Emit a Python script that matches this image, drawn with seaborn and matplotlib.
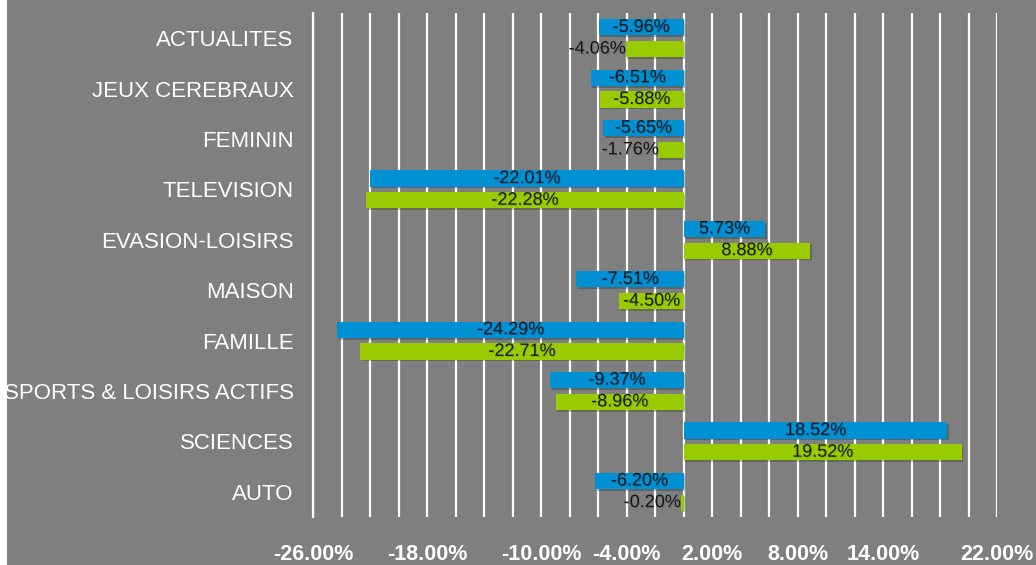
import matplotlib
matplotlib.use('Agg')
import matplotlib.pyplot as plt
import matplotlib.patheffects as pe
from matplotlib.patches import Rectangle
from matplotlib.ticker import MultipleLocator, FixedLocator, FuncFormatter
import seaborn as sns
import pandas as pd
import numpy as np

# data (evolution in %)
categories = ['ACTUALITES', 'JEUX CEREBRAUX', 'FEMININ', 'TELEVISION', 'EVASION-LOISIRS',
              'MAISON', 'FAMILLE', 'SPORTS & LOISIRS ACTIFS', 'SCIENCES', 'AUTO']
serie_1 = [-5.96, -6.51, -5.65, -22.01, 5.73, -7.51, -24.29, -9.37, 18.52, -6.20]
serie_2 = [-4.06, -5.88, -1.76, -22.28, 8.88, -4.50, -22.71, -8.96, 19.52, -0.20]
series_names = ['Serie 1', 'Serie 2']
xtick_shown = [-26, -18, -10, -4, 2, 8, 14, 22]

bg = '#7f7f7f'
blue = '#0090d4'
green = '#99cc00'

df = pd.DataFrame({'categorie': categories * 2,
                   'evolution': serie_1 + serie_2,
                   'serie': [series_names[0]] * len(categories) + [series_names[1]] * len(categories)})

sns.set_theme(style='white')
plt.rcParams['font.family'] = ['Liberation Sans', 'DejaVu Sans']

fig = plt.figure(figsize=(10.36, 5.65), dpi=100, facecolor=bg)
ax = fig.add_axes([313 / 1036, 1 - 517 / 565, (997 - 313) / 1036, (517 - 13) / 565])
ax.set_facecolor(bg)

sns.barplot(data=df, x='evolution', y='categorie', hue='serie', order=categories,
            hue_order=series_names, orient='h', palette=[blue, green], saturation=1,
            width=0.86, gap=0.255, errorbar=None, legend=False, ax=ax, zorder=3,
            edgecolor='none', linewidth=0)

# bar shadow
for p in ax.patches:
    p.set_path_effects([pe.SimplePatchShadow(offset=(1.2, -1.2), alpha=0.3), pe.Normal()])

ax.set_xlim(-26, 22)
ax.set_ylim(9.5, -0.5)
ax.xaxis.set_major_locator(MultipleLocator(2))
ax.xaxis.set_major_formatter(FuncFormatter(
    lambda v, p: f'{v:.2f}%' if int(round(v)) in xtick_shown else ''))
ax.yaxis.set_minor_locator(FixedLocator(np.arange(-0.5, 10, 1)))

ax.grid(axis='x', color='white', lw=1.6)
ax.grid(axis='y', visible=False)
ax.set_axisbelow(True)

for s in ['top', 'right']:
    ax.spines[s].set_visible(False)
ax.spines['bottom'].set_position(('outward', 4))
ax.spines['bottom'].set_visible(False)
ax.spines['left'].set_color('white')
ax.spines['left'].set_linewidth(1.6)

ax.tick_params(axis='x', colors='white', length=7, width=1.2, direction='out', pad=8.5, labelsize=15.5)
ax.tick_params(axis='y', which='major', length=0, pad=14, labelsize=16, colors='white')
ax.tick_params(axis='y', which='minor', length=4.5, width=1.2, color='white', direction='out')
for t in ax.get_xticklabels():
    t.set_fontweight('bold')
for t in ax.get_yticklabels():
    t.set_verticalalignment('center_baseline')
ax.set_xlabel('')
ax.set_ylabel('')

# data labels
shadow = [pe.withSimplePatchShadow(offset=(0.7, -0.7), shadow_rgbFace='black', alpha=0.12)]
for cont, vals in zip(ax.containers, [serie_1, serie_2]):
    for bar, v in zip(cont, vals):
        yc = bar.get_y() + bar.get_height() / 2
        txt = f'{v:.2f}%'
        if abs(v) >= 4.3:
            ax.text(v / 2, yc, txt, ha='center', va='center', fontsize=13,
                    color='#161616', zorder=5, path_effects=shadow)
        else:
            ax.text(v, yc, txt, ha='right' if v < 0 else 'left', va='center', fontsize=13,
                    color='#161616', zorder=5, path_effects=shadow)

# white margin on the left edge
fig.add_artist(Rectangle((0, 0), 7 / 1036, 1, transform=fig.transFigure,
                         facecolor='white', edgecolor='none', zorder=10))

fig.savefig('out.png', dpi=100, facecolor=bg)
